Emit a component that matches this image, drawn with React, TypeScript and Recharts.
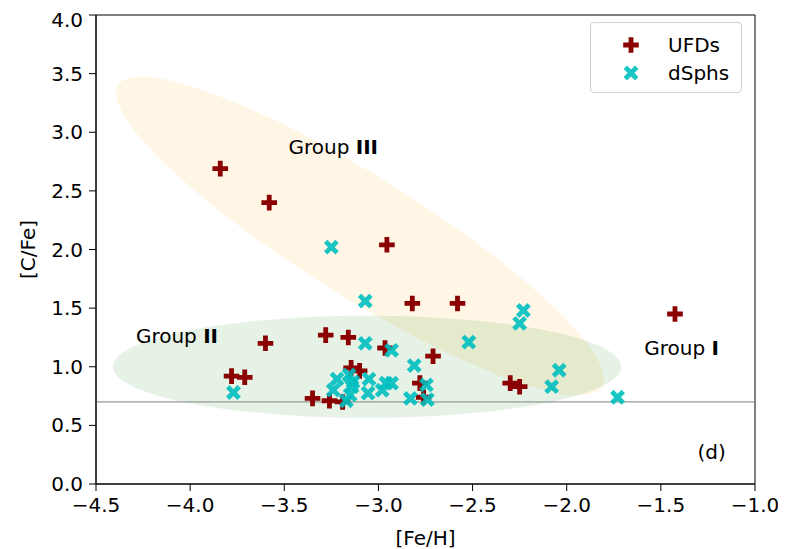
import React from 'react';
import {
  ScatterChart, Scatter, XAxis, YAxis, ReferenceLine, ReferenceArea, ReferenceDot, Legend, Label,
} from 'recharts';

const ufdFeH = [-3.84, -3.58, -2.955, -2.82, -2.58, -1.425, -3.28, -3.16, -3.6, -2.965, -2.71, -3.78, -3.71, -3.145, -3.1, -3.35, -3.26, -3.19, -2.78, -2.76, -2.3, -2.25];
const ufdCFe = [2.69, 2.4, 2.04, 1.54, 1.54, 1.45, 1.27, 1.25, 1.2, 1.16, 1.09, 0.92, 0.91, 0.99, 0.965, 0.73, 0.71, 0.7, 0.86, 0.74, 0.86, 0.83];

const dsphFeH = [-3.25, -3.07, -2.23, -2.25, -2.52, -3.07, -2.93, -2.04, -2.08, -1.73, -3.77, -2.81, -2.745, -2.74, -2.83, -2.93, -2.96, -2.98, -3.05, -3.055, -3.22, -3.24, -3.156, -3.14, -3.15, -3.17, -3.135];
const dsphCFe = [2.02, 1.56, 1.48, 1.37, 1.21, 1.2, 1.14, 0.97, 0.83, 0.74, 0.78, 1.01, 0.845, 0.72, 0.73, 0.86, 0.86, 0.8, 0.895, 0.775, 0.895, 0.8, 0.93, 0.83, 0.76, 0.71, 0.87];

const xMajor = [-4.5, -4.0, -3.5, -3.0, -2.5, -2.0, -1.5, -1.0];
const yMajor = [0, 0.5, 1.0, 1.5, 2.0, 2.5, 3.0, 3.5, 4.0];

// group ellipses: centre + two half-axis vectors, in data units
const groupAreas = [
  { name: 'III', fill: 'orange', cx: -3.098, cy: 2.115, u: [1.284, -1.288], v: [-0.169, -0.434] },
  { name: 'II', fill: 'green', cx: -3.06, cy: 1.0, u: [1.35, 0], v: [0, 0.435] },
];

const groupLabels = [
  { x: -3.24, y: 2.87, text: 'Group ', bold: 'III' },
  { x: -4.07, y: 1.26, text: 'Group ', bold: 'II' },
  { x: -1.39, y: 1.16, text: 'Group ', bold: 'I' },
  { x: -1.23, y: 0.27, text: '(d)', bold: '' },
];

const ufds = ufdFeH.map((x, i) => ({ x, y: ufdCFe[i] }));
const dsphs = dsphFeH.map((x, i) => ({ x, y: dsphCFe[i] }));

const minorTicks = (lo: number, hi: number) => {
  const out: number[] = [];
  for (let i = Math.round(lo * 10); i <= Math.round(hi * 10); i++) out.push(i / 10);
  return out;
};

const FONT = 'DejaVu Sans, sans-serif';
const RED = '#8b0000';
const CYAN = '#00bfbf';
const fmt = (v: number) => v.toFixed(1).replace('-', '\u2212');

const plusPath = (cx: number, cy: number, L: number, w: number, rot = 0) => {
  const pts = [
    [w, L], [w, w], [L, w], [L, -w], [w, -w], [w, -L],
    [-w, -L], [-w, -w], [-L, -w], [-L, w], [-w, w], [-w, L],
  ];
  const c = Math.cos(rot), s = Math.sin(rot);
  return pts.map(([px, py], i) => `${i ? 'L' : 'M'}${cx + px * c - py * s},${cy + px * s + py * c}`).join(' ') + ' Z';
};

const PlusMarker = (p: any) => <path d={plusPath(p.cx, p.cy, 7.8, 2.4)} fill={RED} />;
const XMarker = (p: any) => <path d={plusPath(p.cx, p.cy, 8.1, 2.4, Math.PI / 4)} fill={CYAN} fillOpacity={0.9} />;

const ellipseShape = (g: any) => (p: any) => {
  const ox = p.x + p.width / 2, oy = p.y + p.height / 2;
  const sx = p.width / 2, sy = p.height / 2;
  let d = '';
  for (let k = 0; k <= 120; k++) {
    const t = (k / 120) * Math.PI * 2;
    const dx = g.u[0] * Math.cos(t) + g.v[0] * Math.sin(t);
    const dy = g.u[1] * Math.cos(t) + g.v[1] * Math.sin(t);
    d += `${k ? 'L' : 'M'}${ox + dx * sx},${oy - dy * sy} `;
  }
  return <path d={d + 'Z'} fill={g.fill} fillOpacity={0.1} stroke="none" />;
};

const LegendBox = () => (
  <div style={{
    width: 150, height: 69, border: '1px solid #d0d0d0', borderRadius: 4, background: 'rgba(255,255,255,0.8)',
    fontFamily: FONT, fontSize: 20, position: 'relative',
  }}>
    <svg width={150} height={69} style={{ position: 'absolute', left: 0, top: 0 }}>
      <PlusMarker cx={40} cy={22} />
      <XMarker cx={40} cy={50} />
      <text x={77} y={22} dy="0.35em" fontFamily={FONT} fontSize={20} fill="#000">UFDs</text>
      <text x={77} y={50} dy="0.35em" fontFamily={FONT} fontSize={20} fill="#000">dSphs</text>
    </svg>
  </div>
);

const tickStyle = { fontFamily: FONT, fontSize: 20, fill: '#000' };

export default function App() {
  return (
    <ScatterChart width={778} height={541} margin={{ top: 7, right: 31, bottom: 0, left: 0 }}>
      <XAxis xAxisId="xm" type="number" dataKey="x" domain={[-4.5, -1]} ticks={minorTicks(-4.5, -1)}
        tick={false} axisLine={false} tickSize={4} tickLine={{ stroke: '#000', strokeWidth: 1 }} height={0} allowDataOverflow />
      <XAxis xAxisId="x" type="number" dataKey="x" domain={[-4.5, -1]} ticks={xMajor} tickFormatter={fmt}
        tick={tickStyle} tickSize={7} tickMargin={7} height={65} allowDataOverflow
        axisLine={{ stroke: '#000', strokeWidth: 1 }} tickLine={{ stroke: '#000', strokeWidth: 1 }}>
        <Label value="[Fe/H]" position="insideBottom" offset={4} style={tickStyle} />
      </XAxis>
      <YAxis yAxisId="ym" type="number" dataKey="y" domain={[0, 4]} ticks={minorTicks(0, 4)}
        tick={false} axisLine={false} tickSize={4} tickLine={{ stroke: '#000', strokeWidth: 1 }} width={0} allowDataOverflow />
      <YAxis yAxisId="y" type="number" dataKey="y" domain={[0, 4]} ticks={yMajor} tickFormatter={(v: number) => v.toFixed(1)}
        tick={tickStyle} tickSize={7} tickMargin={6} width={88} allowDataOverflow
        axisLine={{ stroke: '#000', strokeWidth: 1 }} tickLine={{ stroke: '#000', strokeWidth: 1 }}>
        <Label content={(p: any) => {
          const vb = p.viewBox;
          const lx = 20, ly = vb.y + vb.height / 2;
          return <text x={lx} y={ly} transform={`rotate(-90 ${lx} ${ly})`} textAnchor="middle" dominantBaseline="central" style={tickStyle}>[C/Fe]</text>;
        }} />
      </YAxis>

      {groupAreas.map((g) => (
        <ReferenceArea key={g.name} xAxisId="x" yAxisId="y" x1={g.cx - 1} x2={g.cx + 1} y1={g.cy - 1} y2={g.cy + 1}
          shape={ellipseShape(g)} ifOverflow="visible" />
      ))}
      <ReferenceArea xAxisId="x" yAxisId="y" x1={-4.5} x2={-1} y1={0} y2={4} fill="none" fillOpacity={0} stroke="#000" strokeWidth={1} />
      <ReferenceLine xAxisId="x" yAxisId="y" y={0.7} stroke="#808080" strokeWidth={1} />

      <Scatter name="UFDs" data={ufds} xAxisId="x" yAxisId="y" shape={PlusMarker} isAnimationActive={false} />
      <Scatter name="dSphs" data={dsphs} xAxisId="x" yAxisId="y" shape={XMarker} isAnimationActive={false} />

      {groupLabels.map((l) => (
        <ReferenceDot key={l.text + l.bold} xAxisId="x" yAxisId="y" x={l.x} y={l.y} r={0} ifOverflow="visible"
          shape={(p: any) => (
            <text x={p.cx} y={p.cy} textAnchor="middle" dominantBaseline="central" fontFamily={FONT} fontSize={20} fill="#000">
              {l.text}<tspan fontWeight="bold">{l.bold}</tspan>
            </text>
          )} />
      ))}

      <Legend layout="vertical" align="center" verticalAlign="middle" content={() => <LegendBox />}
        wrapperStyle={{ position: 'absolute', left: 582, top: 14, width: 152, height: 71 }} />
    </ScatterChart>
  );
}
